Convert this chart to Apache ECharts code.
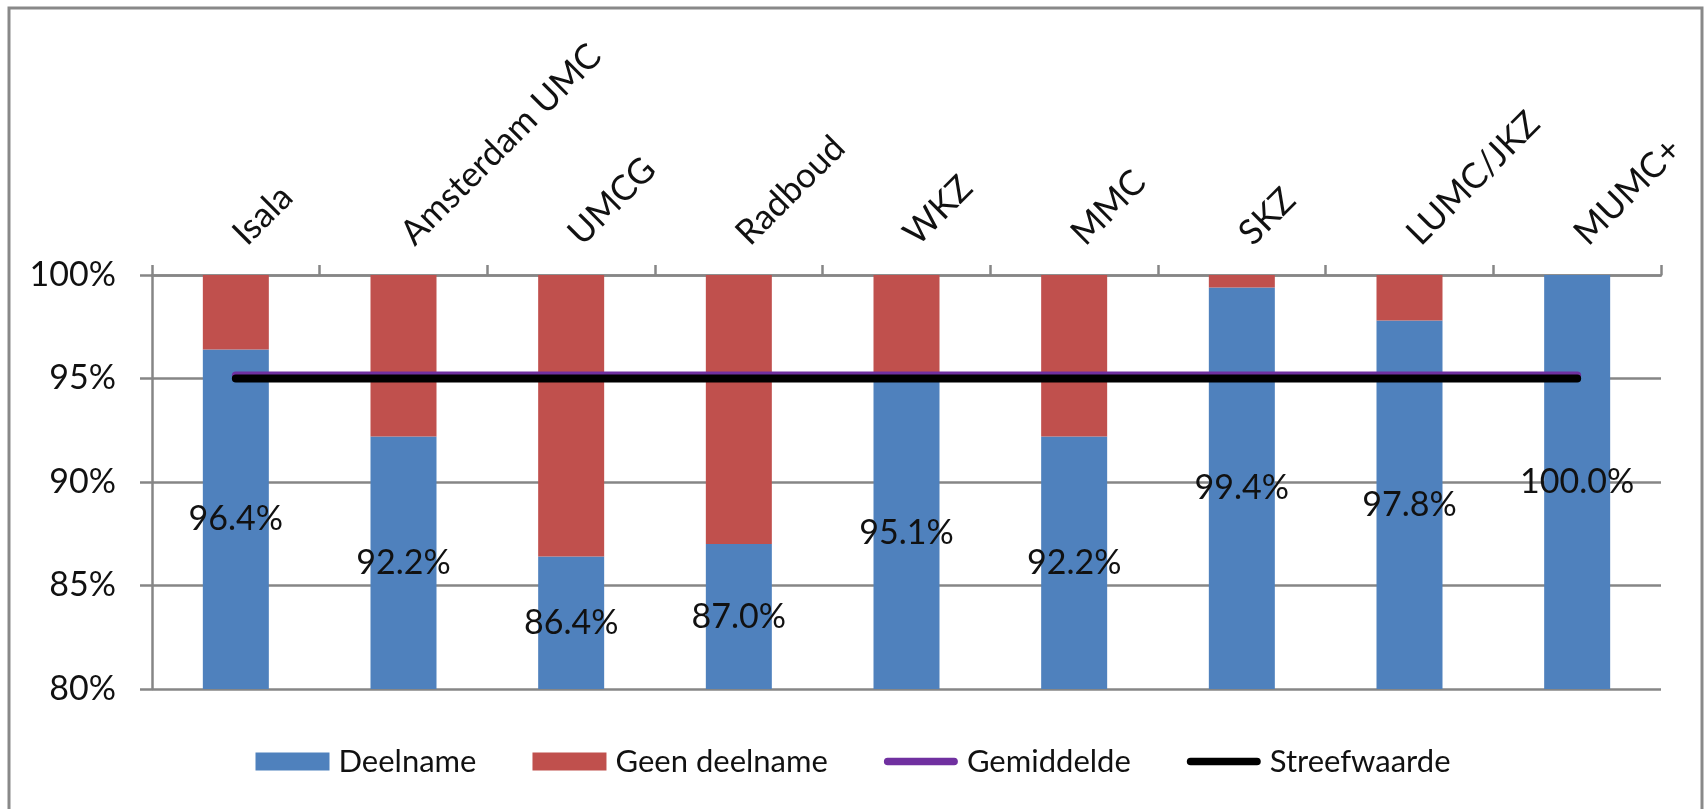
<!DOCTYPE html>
<html>
<head>
<meta charset="utf-8">
<script src="https://cdn.jsdelivr.net/npm/echarts@6/dist/echarts.min.js"></script>
<style>
  html, body { margin: 0; padding: 0; background: #fff; }
  #chart { width: 1706px; height: 809px; }
</style>
</head>
<body>
<div id="chart"></div>
<script>
const categories = ['Isala', 'Amsterdam UMC', 'UMCG', 'Radboud', 'WKZ', 'MMC', 'SKZ', 'LUMC/JKZ', 'MUMC+'];
const deelname = [96.4, 92.2, 86.4, 87.0, 95.1, 92.2, 99.4, 97.8, 100.0];
const geenDeelname = [3.6, 7.8, 13.6, 13.0, 4.9, 7.8, 0.6, 2.2, 0.0];
const gemiddelde = [95.15, 95.15, 95.15, 95.15, 95.15, 95.15, 95.15, 95.15, 95.15];
const streefwaarde = [95, 95, 95, 95, 95, 95, 95, 95, 95];
const yTicks = { min: 80, max: 100, interval: 5 };

const FONT = 'Lato';
const GRAY = '#868686';
const lineIcon = 'path://M4,0 H74 A4,4 0 0 1 74,8 H4 A4,4 0 0 1 4,0 Z';

const chart = echarts.init(document.getElementById('chart'), null, { renderer: 'canvas' });
chart.setOption({
  animation: false,
  backgroundColor: '#fff',
  textStyle: { fontFamily: FONT },
  graphic: [{
    type: 'rect',
    shape: { x: 9, y: 8, width: 1693, height: 830 },
    style: { fill: 'none', stroke: '#898989', lineWidth: 3 },
    silent: true,
    z: -1
  }],
  grid: { left: 152, right: 45, top: 275, bottom: 120, containLabel: false },
  legend: {
    bottom: 27,
    left: 'center',
    itemWidth: 74,
    itemHeight: 18,
    itemGap: 56,
    textStyle: { fontFamily: FONT, fontSize: 31, color: '#111', padding: [0, 0, 0, 4] },
    data: [
      { name: 'Deelname', icon: 'rect' },
      { name: 'Geen deelname', icon: 'rect' },
      { name: 'Gemiddelde', icon: lineIcon },
      { name: 'Streefwaarde', icon: lineIcon }
    ]
  },
  xAxis: {
    type: 'category',
    position: 'top',
    data: categories,
    boundaryGap: true,
    axisLine: { show: true, lineStyle: { color: GRAY, width: 2.5 } },
    axisTick: { show: true, length: 10, inside: false, alignWithLabel: false, lineStyle: { color: GRAY, width: 2.5 } },
    axisLabel: {
      interval: 0,
      rotate: -45,
      margin: 8,
      verticalAlign: 'bottom',
      padding: [0, 0, 0, 22],
      fontFamily: FONT,
      fontSize: 35,
      color: '#111'
    },
    splitLine: { show: false }
  },
  yAxis: {
    type: 'value',
    min: yTicks.min,
    max: yTicks.max,
    interval: yTicks.interval,
    axisLine: { show: true, lineStyle: { color: GRAY, width: 2.5 } },
    axisTick: { show: true, length: 12, inside: false, lineStyle: { color: GRAY, width: 2.5 } },
    axisLabel: {
      formatter: '{value}%',
      margin: 36,
      fontFamily: FONT,
      fontSize: 34,
      color: '#111'
    },
    splitLine: { show: true, lineStyle: { color: GRAY, width: 2.5 } }
  },
  series: [
    {
      name: 'Deelname',
      type: 'bar',
      stack: 'total',
      barWidth: 66,
      data: deelname,
      itemStyle: { color: '#4F81BD' },
      label: {
        show: true,
        position: 'inside',
        fontFamily: FONT,
        fontSize: 34,
        color: '#111',
        formatter: p => p.value.toFixed(1) + '%'
      },
      z: 2
    },
    {
      name: 'Geen deelname',
      type: 'bar',
      stack: 'total',
      barWidth: 66,
      data: geenDeelname,
      itemStyle: { color: '#C0504D' },
      z: 2
    },
    {
      name: 'Gemiddelde',
      type: 'line',
      data: gemiddelde,
      symbol: 'none',
      lineStyle: { color: '#7030A0', width: 8, cap: 'round' },
      itemStyle: { color: '#7030A0' },
      z: 3
    },
    {
      name: 'Streefwaarde',
      type: 'line',
      data: streefwaarde,
      symbol: 'none',
      lineStyle: { color: '#000000', width: 8, cap: 'round' },
      itemStyle: { color: '#000000' },
      z: 4
    }
  ]
});
</script>
</body>
</html>
